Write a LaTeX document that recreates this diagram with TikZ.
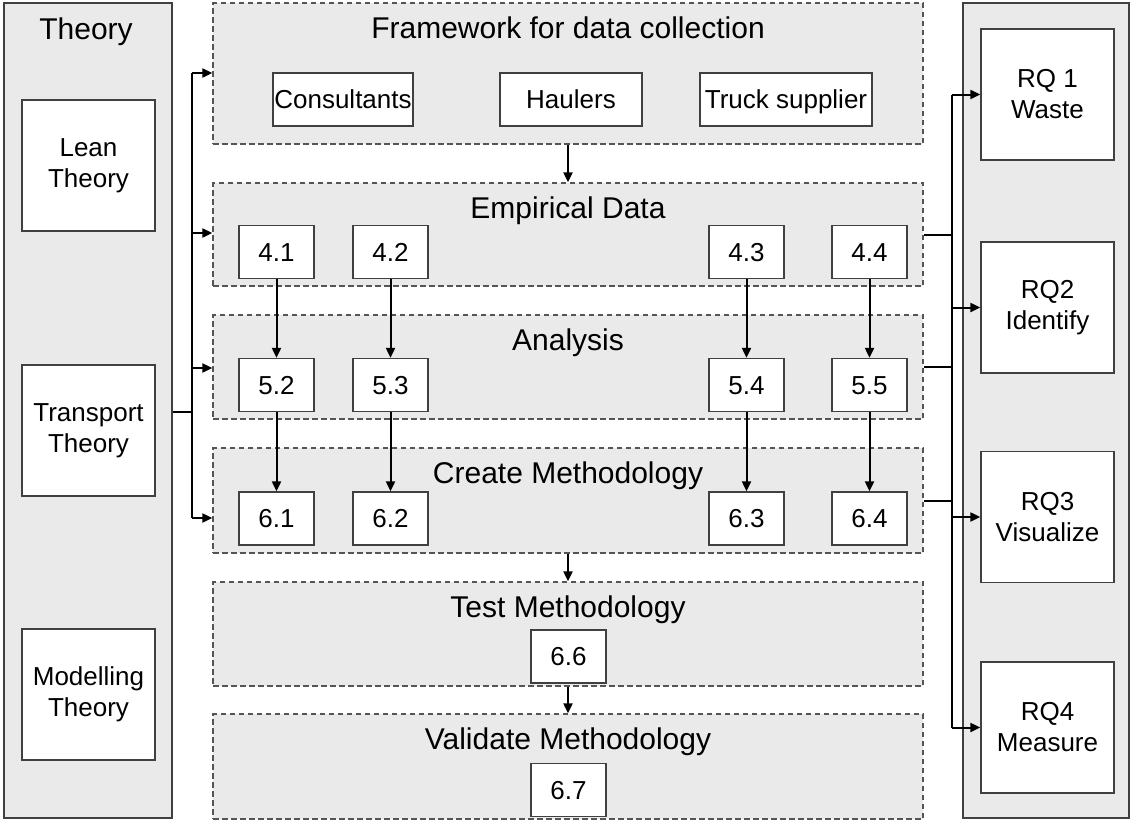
\documentclass[tikz,border=0pt]{standalone}
\usepackage{fontspec}
\setmainfont{Liberation Sans}
\usetikzlibrary{arrows.meta}
\definecolor{panelfill}{HTML}{EAEAEA}
\definecolor{edge}{HTML}{404040}
\definecolor{dashedge}{HTML}{555555}
\begin{document}
\begin{tikzpicture}[x=1pt,y=-1pt,
  panel/.style={draw=edge,line width=1.3pt,fill=panelfill,rectangle,inner sep=0pt},
  group/.style={draw=dashedge,line width=1.3pt,dash pattern=on 5.5pt off 3.5pt,fill=panelfill,rectangle,inner sep=0pt},
  box/.style={draw=edge,line width=1.3pt,fill=white,rectangle,inner sep=0pt,align=center,font=\fontsize{26}{31}\selectfont},
  onebox/.style={box,text height=18.6pt,text depth=0pt},
  numbox/.style={onebox,minimum width=75pt,minimum height=53pt},
  bigbox/.style={box,minimum width=133pt,minimum height=131pt},
  heading/.style={anchor=base,inner sep=0pt,font=\fontsize{30}{36}\selectfont},
  conn/.style={line width=2pt,black},
  arr/.style={conn,-{Triangle[length=10pt,width=9pt]}}]
\useasboundingbox (0,0) rectangle (1132,822);

% side panels
\node[panel,minimum width=168pt,minimum height=815pt] (theory) at (88,410.5) {};
\node[heading] (theoryh) at (86,39) {Theory};
\node[panel,minimum width=166pt,minimum height=815pt] (rqp) at (1046,410.5) {};

\node[bigbox] (lean) at (88.5,165.5) {Lean\\Theory};
\node[bigbox] (transport) at (88.5,430.5) {Transport\\Theory};
\node[bigbox] (modelling) at (88.5,694.5) {Modelling\\Theory};

\node[bigbox] (rq1) at (1047.5,94.5) {RQ 1\\Waste};
\node[bigbox] (rq2) at (1047.5,307.5) {RQ2\\Identify};
\node[bigbox] (rq3) at (1047.5,517) {RQ3\\Visualize};
\node[bigbox] (rq4) at (1047.5,727.5) {RQ4\\Measure};

% groups
\node[group,minimum width=710pt,minimum height=141pt] (fw) at (568,73.5) {};
\node[heading] at (568,38) {Framework for data collection};
\node[group,minimum width=710pt,minimum height=103pt] (emp) at (568,234.5) {};
\node[heading] at (568,218) {Empirical Data};
\node[group,minimum width=710pt,minimum height=104pt] (ana) at (568,367) {};
\node[heading] at (568,350) {Analysis};
\node[group,minimum width=710pt,minimum height=105pt] (cre) at (568,500.5) {};
\node[heading] at (568,483) {Create Methodology};
\node[group,minimum width=710pt,minimum height=104pt] (test) at (568,634) {};
\node[heading] at (568,617) {Test Methodology};
\node[group,minimum width=710pt,minimum height=105pt] (val) at (568,766.5) {};
\node[heading] at (568,749) {Validate Methodology};

% inner boxes
\node[onebox,minimum width=140pt,minimum height=53pt] (cons) at (343,99.5) {Consultants};
\node[onebox,minimum width=142pt,minimum height=53pt] (haul) at (571,99.5) {Haulers};
\node[onebox,minimum width=172pt,minimum height=53pt] (truck) at (786,99.5) {Truck supplier};

\node[numbox] (b41) at (276.5,252) {4.1};
\node[numbox] (b42) at (390.5,252) {4.2};
\node[numbox] (b43) at (746.5,252) {4.3};
\node[numbox] (b44) at (869.5,252) {4.4};

\node[numbox] (b52) at (276.5,385) {5.2};
\node[numbox] (b53) at (390.5,385) {5.3};
\node[numbox] (b54) at (746.5,385) {5.4};
\node[numbox] (b55) at (869.5,385) {5.5};

\node[numbox] (b61) at (276.5,518.5) {6.1};
\node[numbox] (b62) at (390.5,518.5) {6.2};
\node[numbox] (b63) at (746.5,518.5) {6.3};
\node[numbox] (b64) at (869.5,518.5) {6.4};

\node[numbox] (b66) at (568.5,656.5) {6.6};
\node[numbox] (b67) at (568.5,790) {6.7};

% vertical flow
\draw[arr] (fw.south) -- (emp.north);
\draw[arr] (b41.south) -- (b52.north);
\draw[arr] (b42.south) -- (b53.north);
\draw[arr] (b43.south) -- (b54.north);
\draw[arr] (b44.south) -- (b55.north);
\draw[arr] (b52.south) -- (b61.north);
\draw[arr] (b53.south) -- (b62.north);
\draw[arr] (b54.south) -- (b63.north);
\draw[arr] (b55.south) -- (b64.north);
\draw[arr] (cre.south) -- (test.north);
\draw[arr] (test.south) -- (val.north);

% left bracket
\coordinate (l0) at (192,412);
\coordinate (l1) at (192,73);
\coordinate (l2) at (192,233);
\coordinate (l3) at (192,368);
\coordinate (l4) at (192,518);
\draw[conn] (theory.east |- l0) -- (l0);
\draw[conn] (l1) -- (l4);
\draw[arr] (l1) -- (fw.west |- l1);
\draw[arr] (l2) -- (emp.west |- l2);
\draw[arr] (l3) -- (ana.west |- l3);
\draw[arr] (l4) -- (cre.west |- l4);

% right bracket
\coordinate (r1) at (952,94.5);
\coordinate (r2) at (952,307.5);
\coordinate (r3) at (952,517);
\coordinate (r4) at (952,727.5);
\draw[conn] (r1) -- (r4);
\draw[conn] (emp.east) -- (emp.east -| r1);
\draw[conn] (ana.east) -- (ana.east -| r1);
\draw[conn] (cre.east) -- (cre.east -| r1);
\draw[arr] (r1) -- (rq1.west);
\draw[arr] (r2) -- (rq2.west);
\draw[arr] (r3) -- (rq3.west);
\draw[arr] (r4) -- (rq4.west);
\end{tikzpicture}
\end{document}
